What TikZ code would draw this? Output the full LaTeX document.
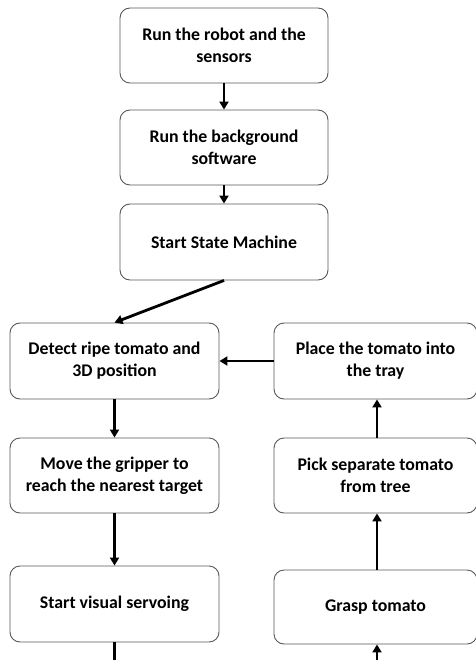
\documentclass[tikz,border=0pt]{standalone}
\usepackage{fontspec}
\setmainfont{Carlito}
\usetikzlibrary{arrows.meta}
\begin{document}
\begin{tikzpicture}[x=1pt,y=-1pt,
  box/.style={draw=black!65, line width=0.9pt, rounded corners=10pt, fill=white,
    align=center, inner sep=0pt, font=\fontsize{17.8}{22}\selectfont\bfseries},
  arr/.style={line width=2.8pt, -{Triangle[length=8pt,width=9pt]}}]
\useasboundingbox[fill=white] (0,0) rectangle (475,660);
\node[box, minimum width=208pt, minimum height=75pt] (b1) at (224,45.5) {Run the robot and the\\sensors};
\node[box, minimum width=208pt, minimum height=75pt] (b2) at (224,147.5) {Run the background\\software};
\node[box, minimum width=208pt, minimum height=76pt] (b3) at (224,242) {Start State Machine};
\node[box, minimum width=209pt, minimum height=76pt] (det) at (114.5,361) {Detect ripe tomato and\\3D position};
\node[box, minimum width=203pt, minimum height=76pt] (pl) at (375.5,361) {Place the tomato into\\the tray};
\node[box, minimum width=209pt, minimum height=75pt] (mv) at (114.5,475.5) {Move the gripper to\\reach the nearest target};
\node[box, minimum width=203pt, minimum height=75pt] (pk) at (375.5,475.5) {Pick separate tomato\\from tree};
\node[box, minimum width=209pt, minimum height=76pt] (sv) at (114.5,604) {Start visual servoing};
\node[box, minimum width=203pt, minimum height=74pt] (gr) at (375.5,607) {Grasp tomato};
\coordinate (e1) at (114.5,668);
\coordinate (e2) at (377,668);
\draw[arr] (b1) -- (b2);
\draw[arr] (b2) -- (b3);
\draw[arr] (b3.south) -- (det.north);
\draw[arr] (pl) -- (det);
\draw[arr] (det) -- (mv);
\draw[arr] (mv) -- (sv);
\draw[arr] (gr.north -| e2) -- (pk.south -| e2);
\draw[arr] (pk.north -| e2) -- (pl.south -| e2);
\draw[line width=2.8pt] (sv.south) -- (e1);
\draw[arr] (e2) -- (gr.south -| e2);
\end{tikzpicture}
\end{document}
